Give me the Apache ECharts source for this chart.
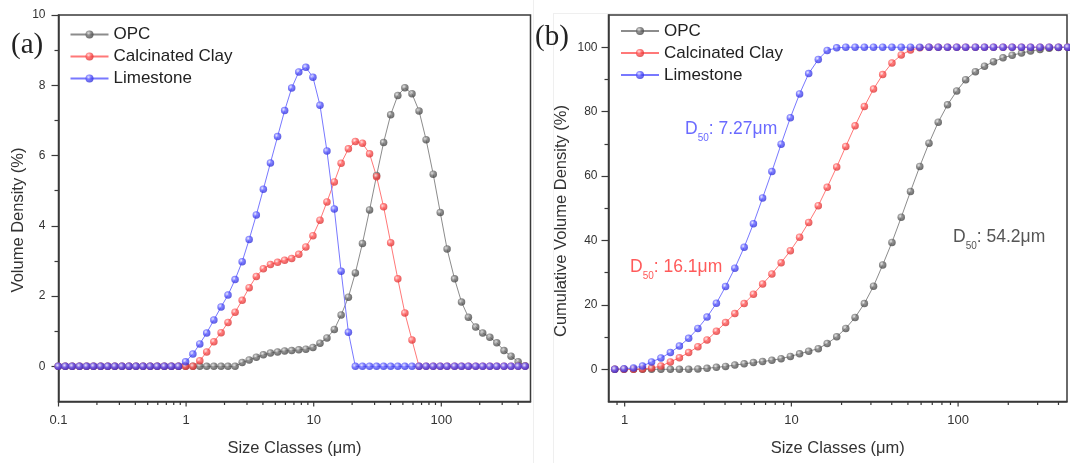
<!DOCTYPE html>
<html><head><meta charset="utf-8">
<script src="https://cdn.jsdelivr.net/npm/echarts@6/dist/echarts.min.js"></script>
<style>html,body{margin:0;padding:0;background:#fff}#c{width:1070px;height:463px}</style>
</head><body><div id="c"></div>
<script>
// Size classes (µm) shown in panel (a)
const sizeClassesA = [0.0995,0.113,0.128,0.146,0.166,0.188,0.214,0.243,0.276,0.314,0.357,0.405,0.460,0.523,0.594,0.675,0.767,0.872,
  0.991,1.13,1.28,1.45,1.65,1.88,2.13,2.42,2.75,3.12,3.55,4.03,4.58,5.21,5.92,6.72,7.64,8.68,
  9.86,11.2,12.7,14.5,16.4,18.7,21.2,24.1,27.4,31.1,35.3,40.1,45.6,51.8,58.9,66.9,76.0,86.4,
  98.1,111,127,144,163,186,211,240,272,310,352,400,454];
// Size classes (µm) shown in panel (b)
const sizeClassesB = [0.872,0.991,1.13,1.28,1.45,1.65,1.88,2.13,2.42,2.75,3.12,3.55,4.03,4.58,5.21,5.92,6.72,7.64,8.68,
  9.86,11.2,12.7,14.5,16.4,18.7,21.2,24.1,27.4,31.1,35.3,40.1,45.6,51.8,58.9,66.9,76.0,86.4,
  98.1,111,127,144,163,186,211,240,272,310,352,400,454];

// Volume density (%) - panel (a)
const opcDensity = [0,0,0,0,0,0,0,0,0,0,0,0,0,0,0,0,0,0,0,0,0,0,0,0,0,0,
  0.11,0.18,0.26,0.33,0.38,0.41,0.44,0.45,0.47,0.49,0.54,0.66,0.81,1.05,1.46,1.97,2.66,3.50,4.45,5.43,
  6.37,7.16,7.71,7.93,7.76,7.27,6.45,5.47,4.38,3.34,2.49,1.83,1.40,1.12,0.95,0.83,0.67,0.45,0.29,0.13,0.02];
const clayDensity = [0,0,0,0,0,0,0,0,0,0,0,0,0,0,0,0,0,0,0,0,
  0.16,0.41,0.70,0.96,1.25,1.54,1.88,2.24,2.56,2.78,2.90,2.96,3.02,3.07,3.19,3.40,3.72,4.16,4.68,5.25,
  5.78,6.19,6.40,6.35,6.05,5.40,4.54,3.52,2.49,1.52,0.75,
  0,0,0,0,0,0,0,0,0,0,0,0,0,0,0,0];
const limeDensity = [0,0,0,0,0,0,0,0,0,0,0,0,0,0,0,0,0,0,
  0.13,0.35,0.64,0.95,1.32,1.69,2.03,2.47,2.98,3.61,4.31,5.04,5.79,6.54,7.28,7.92,8.38,8.51,8.23,7.43,
  6.13,4.48,2.71,0.97,
  0,0,0,0,0,0,0,0,0,0,0,0,0,0,0,0,0,0,0,0,0,0,0,0,0];

// Cumulative volume density (%) - panel (b)
const opcCum = [0,0,0,0,0,0,0,0,0,
  0.1,0.3,0.6,0.9,1.3,1.7,2.1,2.4,2.8,3.3,4.0,4.8,5.6,6.4,8.0,10.1,12.7,16.1,20.4,25.8,32.4,39.4,47.2,
  55.2,63.0,70.2,76.7,82.1,86.4,89.9,92.4,94.1,95.5,96.7,97.5,98.2,98.8,99.3,99.7,99.9,100];
const clayCum = [0,0,0,
  0.1,0.4,1.0,2.3,3.6,5.2,7.0,9.1,11.8,14.5,17.3,20.4,23.3,26.5,29.6,33.1,36.8,41.0,45.6,50.8,56.5,
  62.8,69.2,75.6,81.6,87.0,91.5,95.1,97.6,99.1,99.8,
  100,100,100,100,100,100,100,100,100,100,100,100,100,100,100,100];
const limeCum = [0,
  0.2,0.4,1.0,2.3,3.5,5.2,7.2,9.6,12.7,16.2,20.5,25.7,31.4,37.9,45.2,53.2,61.4,69.9,78.1,85.5,91.8,96.2,99.0,99.8,
  100,100,100,100,100,100,100,100,100,100,100,100,100,100,100,100,100,100,100,100,100,100,100,100,100];

// Tick values
const majorTicksA = [0.1, 1, 10, 100];
const minorTicksA = [0.2,0.3,0.4,0.5,0.6,0.7,0.8,0.9,2,3,4,5,6,7,8,9,20,30,40,50,60,70,80,90,200,300,400];
const majorTicksB = [1, 10, 100];
const minorTicksB = [0.9,2,3,4,5,6,7,8,9,20,30,40,50,60,70,80,90,200,300,400];
const yLabelsA = [0,2,4,6,8,10];
const yMinorA = [1,3,5,7,9];
const yLabelsB = [0,20,40,60,80,100];
const yMinorB = [10,30,50,70,90];

const names = ['OPC','Calcinated Clay','Limestone'];
const AX = '#3a3a3a';
const FONT = '"Liberation Sans", Arial, Helvetica, sans-serif';

function sphere(light, mid, dark){
  return {type:'radial', x:0.38, y:0.35, r:0.72,
    colorStops:[{offset:0,color:light},{offset:0.45,color:mid},{offset:1,color:dark}]};
}
const styles = {
  'OPC': {line:'#8c8c8c', fill: sphere('#e2e2e2','#6c6c6c','#3a3a3a')},
  'Calcinated Clay': {line:'#ff7878', fill: sphere('#ffe2e2','#ff5252','#d02828')},
  'Limestone': {line:'#7878ff', fill: sphere('#e6e6ff','#5656ff','#2828d0')}
};

function lineSeries(name, xs, ys, gi){
  return {type:'line', name, xAxisIndex:gi, yAxisIndex:gi*2,
    data: xs.map((x,k)=>[x, ys[k]]),
    symbol:'circle', symbolSize:7.5, showSymbol:true, clip:false,
    lineStyle:{width:1, color:styles[name].line},
    itemStyle:{color:styles[name].fill, opacity:0.78},
    emphasis:{disabled:true}, z:3};
}
function tickSeries(vals, gi, ymin, len){
  return {type:'scatter', name:'_ticks', xAxisIndex:gi, yAxisIndex:gi*2,
    data: vals.map(v=>[v, ymin]), symbol:'rect', symbolSize:[1.2, len], symbolOffset:[0, len/2],
    clip:false, silent:true, itemStyle:{color:AX, opacity:1}, z:4};
}
function decadeLabel(v){
  const l = Math.log10(v);
  return Math.abs(l - Math.round(l)) < 1e-6 ? String(Math.pow(10, Math.round(l))) : '';
}
function xAxis(gi, min, max){
  return {type:'log', logBase:10, gridIndex:gi, min, max,
    axisLine:{show:true, onZero:false, lineStyle:{color:AX, width:1.5}},
    axisTick:{show:false},
    axisLabel:{formatter:decadeLabel, color:'#333', fontSize:13, margin:12, fontFamily:FONT},
    splitLine:{show:false}, minorTick:{show:false}, minorSplitLine:{show:false},
    name:'Size Classes (μm)', nameLocation:'middle', nameGap:38,
    nameTextStyle:{fontSize:16.5, color:'#333', fontFamily:FONT}};
}
function yMajor(gi, min, max, interval, labels, margin){
  return {type:'value', gridIndex:gi, min, max, interval, position:'left',
    axisLine:{show:true, onZero:false, lineStyle:{color:AX, width:1.5}},
    axisTick:{show:true, length:7, customValues:labels, lineStyle:{color:AX, width:1.2}},
    axisLabel:{customValues:labels, fontSize:12, color:'#333', margin, fontFamily:FONT},
    splitLine:{show:false}};
}
function yMinor(gi, min, max, interval, vals){
  return {type:'value', gridIndex:gi, min, max, interval, position:'left',
    axisLine:{show:false}, axisLabel:{show:false}, splitLine:{show:false},
    axisTick:{show:true, length:4, customValues:vals, lineStyle:{color:AX, width:1.2}}};
}
function legend(left, top){
  return {orient:'vertical', left, top, itemWidth:38, itemHeight:10, itemGap:5,
    data:names, textStyle:{fontSize:17, color:'#222', fontFamily:FONT}, selectedMode:false};
}
function d50(x, y, color, value){
  return {type:'text', left:x, top:y, silent:true,
    style:{text:'{m|D}{s|50}{m|: ' + value + 'μm}', fill:color, font:'17.5px ' + FONT,
      rich:{m:{fontSize:17.5, fontFamily:FONT, fill:color, lineHeight:18, verticalAlign:'top'},
            s:{fontSize:10, fontFamily:FONT, fill:color, lineHeight:23, verticalAlign:'bottom'}}}};
}

const chart = echarts.init(document.getElementById('c'), null, {renderer:'canvas'});
chart.setOption({
  animation:false,
  backgroundColor:'#fff',
  grid:[
    {left:58.5, top:15, width:472, height:386.5, show:true, borderColor:AX, borderWidth:1.5, containLabel:false},
    {left:608.5, top:15, width:472, height:386.5, show:true, borderColor:AX, borderWidth:1.5, containLabel:false}
  ],
  xAxis:[xAxis(0, 0.1, 500), xAxis(1, 0.8, 450)],
  yAxis:[
    yMajor(0, -1, 10, 1, yLabelsA, 13), yMinor(0, -1, 10, 1, yMinorA),
    yMajor(1, -10, 110, 10, yLabelsB, 11), yMinor(1, -10, 110, 10, yMinorB)
  ],
  legend:[legend(64.5, 21), legend(615, 17.5)],
  series:[
    lineSeries('OPC', sizeClassesA, opcDensity, 0),
    lineSeries('Calcinated Clay', sizeClassesA, clayDensity, 0),
    lineSeries('Limestone', sizeClassesA, limeDensity, 0),
    lineSeries('OPC', sizeClassesB, opcCum, 1),
    lineSeries('Calcinated Clay', sizeClassesB, clayCum, 1),
    lineSeries('Limestone', sizeClassesB, limeCum, 1),
    tickSeries(majorTicksA, 0, -1, 5), tickSeries(minorTicksA, 0, -1, 3.5),
    tickSeries(majorTicksB, 1, -10, 5), tickSeries(minorTicksB, 1, -10, 3.5)
  ],
  graphic:[
    {type:'line', silent:true, shape:{x1:533.5, y1:0, x2:533.5, y2:463}, style:{stroke:'#efefef', lineWidth:1}},
    {type:'line', silent:true, shape:{x1:553.5, y1:13, x2:553.5, y2:463}, style:{stroke:'#efefef', lineWidth:1}},
    {type:'line', silent:true, shape:{x1:553.5, y1:13.5, x2:1070, y2:13.5}, style:{stroke:'#efefef', lineWidth:1}},
    {type:'text', x:18.5, y:220, rotation:Math.PI/2, silent:true,
      style:{text:'Volume Density (%)', font:'16.5px ' + FONT, fill:'#333', textAlign:'center', textVerticalAlign:'middle'}},
    {type:'text', x:561, y:221, rotation:Math.PI/2, silent:true,
      style:{text:'Cumulative Volume Density (%)', font:'16.5px ' + FONT, fill:'#333', textAlign:'center', textVerticalAlign:'middle'}},
    {type:'text', left:11, top:31, silent:true,
      style:{text:'(a)', font:'29px "Liberation Serif", "Times New Roman", serif', fill:'#222'}},
    {type:'text', left:535, top:23, silent:true,
      style:{text:'(b)', font:'29px "Liberation Serif", "Times New Roman", serif', fill:'#222'}},
    d50(685, 120, '#6a6aff', '7.27'),
    d50(630, 258, '#ff5a5a', '16.1'),
    d50(953, 228, '#555555', '54.2')
  ]
});
</script></body></html>
